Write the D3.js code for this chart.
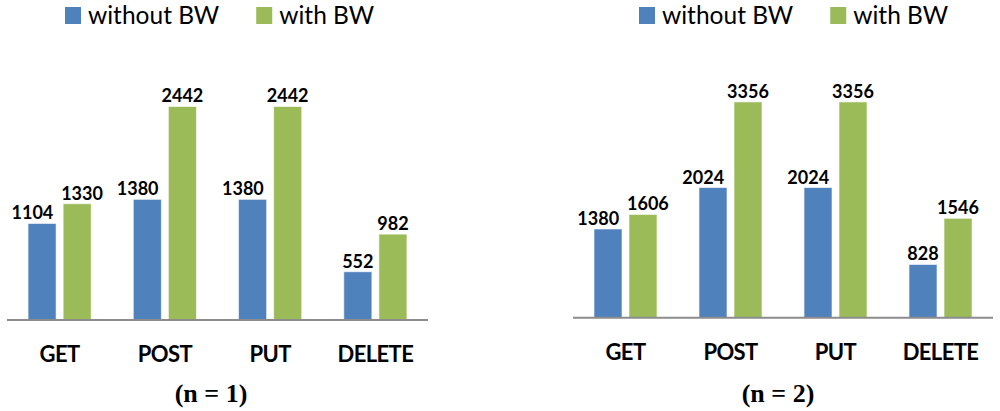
<!DOCTYPE html>
<html>
<head>
<meta charset="utf-8">
<script src="https://cdn.jsdelivr.net/npm/d3@7"></script>
<style>
  html, body { margin: 0; padding: 0; background: #fff; }
  svg { display: block; }
</style>
</head>
<body>
<svg id="chart" width="1000" height="411"></svg>
<script>
// ---------- data ----------
const categories = ["GET", "POST", "PUT", "DELETE"];
const seriesNames = ["without BW", "with BW"];
const seriesColors = ["#4F81BD", "#9BBB59"];
const withoutBW_n1 = [1104, 1380, 1380, 552];
const withBW_n1    = [1330, 2442, 2442, 982];
const withoutBW_n2 = [1380, 2024, 2024, 828];
const withBW_n2    = [1606, 3356, 3356, 1546];
const titles = ["(n = 1)", "(n = 2)"];
const axisMax = [3000, 4000];

const svg = d3.select("#chart");

const panels = [
  { series: [withoutBW_n1, withBW_n1], title: titles[0], max: axisMax[0],
    x0: 7, x1: 428, yBase: 320, yTop: 57.7, legendX: 65, titleX: 211 },
  { series: [withoutBW_n2, withBW_n2], title: titles[1], max: axisMax[1],
    x0: 573, x1: 993, yBase: 317.7, yTop: 60.5, legendX: 639, titleX: 778 }
];

const catFont = "Lato, 'Open Sans', sans-serif";

panels.forEach(p => {
  const g = svg.append("g");
  const xOuter = d3.scaleBand().domain(categories).range([p.x0, p.x1]).padding(0);
  const xInner = d3.scaleBand().domain(d3.range(seriesNames.length))
      .range([0, xOuter.bandwidth()]).paddingInner(0.2).paddingOuter(0.6);
  const y = d3.scaleLinear().domain([0, p.max]).range([p.yBase, p.yTop]);

  // bars
  const rows = categories.map((c, i) => ({ cat: c, vals: p.series.map(s => s[i]) }));
  const grp = g.selectAll("g.cat").data(rows).join("g")
      .attr("transform", d => `translate(${xOuter(d.cat)},0)`);

  grp.selectAll("rect").data(d => d.vals.map((v, k) => ({ v, k })))
    .join("rect")
      .attr("x", d => xInner(d.k))
      .attr("y", d => y(d.v))
      .attr("width", xInner.bandwidth())
      .attr("height", d => y(0) - y(d.v))
      .attr("fill", d => seriesColors[d.k])
      .attr("stroke", "#fff")
      .attr("stroke-opacity", 0.6)
      .attr("stroke-width", 1);

  // value labels with simple overlap avoidance
  grp.each(function(d) {
    const gg = d3.select(this);
    const texts = d.vals.map((v, k) => gg.append("text")
      .attr("x", xInner(k) + xInner.bandwidth() / 2)
      .attr("y", y(v) - 4)
      .attr("text-anchor", "middle")
      .attr("font-family", catFont)
      .attr("font-weight", 700)
      .attr("font-size", 18)
      .attr("fill", "#000")
      .text(v));
    const w0 = texts[0].node().getComputedTextLength();
    const w1 = texts[1].node().getComputedTextLength();
    const dist = xInner.step();
    const overlap = (w0 + w1) / 2 + 3 - dist;
    if (overlap > 7) {
      texts[0].attr("x", +texts[0].attr("x") - overlap);
      if (Math.abs(y(d.vals[0]) - y(d.vals[1])) < 25) {
        texts[1].attr("x", +texts[1].attr("x") + overlap / 2);
      }
    }
  });

  // baseline axis
  g.append("line")
    .attr("x1", p.x0).attr("x2", p.x1)
    .attr("y1", y(0)).attr("y2", y(0))
    .attr("stroke", "#8c8c8c").attr("stroke-width", 2);

  // category labels
  const xAxis = d3.axisBottom(xOuter).tickSize(0).tickPadding(0);
  const ax = g.append("g").attr("transform", `translate(0,${p.yBase + 42})`).call(xAxis);
  ax.select(".domain").remove();
  ax.selectAll("text")
    .attr("dy", 0)
    .attr("font-family", catFont)
    .attr("font-weight", 700)
    .attr("font-size", 22)
    .attr("letter-spacing", -0.6)
    .attr("fill", "#000");

  // title
  g.append("text")
    .attr("x", p.titleX).attr("y", 402)
    .attr("text-anchor", "middle")
    .attr("font-family", "'Liberation Serif', 'Times New Roman', serif")
    .attr("font-weight", 700)
    .attr("font-size", 26)
    .text(p.title);

  // legend
  const lg = g.append("g").attr("transform", `translate(${p.legendX},0)`);
  let lx = 0;
  seriesNames.forEach((name, k) => {
    lg.append("rect").attr("x", lx).attr("y", 7).attr("width", 16).attr("height", 17)
      .attr("fill", seriesColors[k]);
    const t = lg.append("text").attr("x", lx + 23).attr("y", 24)
      .attr("font-family", catFont)
      .attr("font-size", 24.5)
      .attr("fill", "#000")
      .text(name);
    lx += 23 + t.node().getComputedTextLength() + 37;
  });
});
</script>
</body>
</html>
